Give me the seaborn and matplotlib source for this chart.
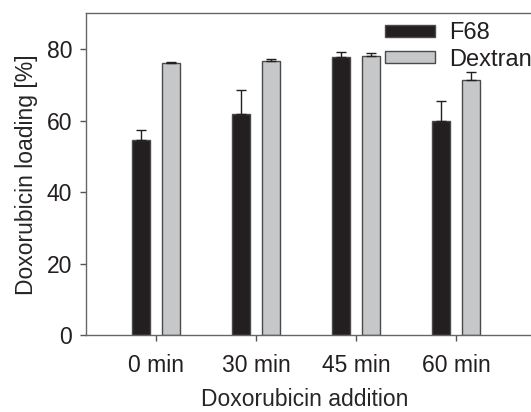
import numpy as np
import pandas as pd
import matplotlib
matplotlib.use("Agg")
import matplotlib.pyplot as plt
import seaborn as sns

# Datos
categories = ["0 min", "30 min", "45 min", "60 min"]
f68_mean = [54.6, 62.0, 77.7, 59.8]
f68_err = [2.8, 6.7, 1.5, 5.7]
dextran_mean = [76.2, 76.8, 78.0, 71.3]
dextran_err = [0.2, 0.5, 1.0, 2.2]
groups = ["F68", "Dextran"]

sns.set_theme(style="white")
plt.rcParams["font.family"] = ["Liberation Sans", "DejaVu Sans"]
plt.rcParams["text.color"] = "#231f20"

df = pd.DataFrame({
    "Doxorubicin addition": categories * 2,
    "loading": f68_mean + dextran_mean,
    "group": [groups[0]] * 4 + [groups[1]] * 4,
})

fig = plt.figure(figsize=(5.31, 4.12), dpi=100)
# el eje sigue más allá del borde derecho (figura recortada)
ax = fig.add_axes([86 / 531, 77 / 412, 470 / 531, 321.5 / 412])

palette = {"F68": "#231f20", "Dextran": "#c6c7c9"}
sns.barplot(data=df, x="Doxorubicin addition", y="loading", hue="group",
            hue_order=groups, order=categories, palette=palette,
            width=0.6, gap=0.37, errorbar=None, ax=ax,
            edgecolor="#4a4a4a", linewidth=1.0, saturation=1)

# Barras de error solo hacia arriba
errs = f68_err + dextran_err
means = f68_mean + dextran_mean
for patch, m, e in zip(ax.patches[:8], means, errs):
    xc = patch.get_x() + patch.get_width() / 2
    ax.errorbar(xc, m, yerr=[[0], [e]], fmt="none", ecolor="#231f20",
                elinewidth=1.0, capsize=3.8, capthick=1.0, zorder=1)

ax.set_xlim(-0.7, 4.0)
ax.set_ylim(0, 90)
ax.set_yticks([0, 20, 40, 60, 80])
ax.set_xlabel("Doxorubicin addition", fontsize=16.5)
ax.set_ylabel("Doxorubicin loading [%]", fontsize=16.5, labelpad=6)
ax.xaxis.set_label_coords((305 - 86) / 470, -53.5 / 321.5)
ax.tick_params(axis="both", labelsize=16.5, direction="out", length=4,
               width=1, color="#555555", bottom=True, left=True)
ax.tick_params(axis="x", pad=10)
ax.tick_params(axis="y", pad=6)
ax.tick_params(axis="both", labelcolor="#231f20")
for side in ["left", "bottom", "top", "right"]:
    ax.spines[side].set_color("#666666")
    ax.spines[side].set_linewidth(1.0)

ax.legend(loc="upper left", bbox_to_anchor=(385 / 531, 1 - 22 / 412),
          bbox_transform=fig.transFigure, frameon=False, fontsize=17,
          handlelength=2.1, handleheight=0.4, handletextpad=0.6,
          labelspacing=0.2, borderpad=0, borderaxespad=0)

plt.savefig("out.png", dpi=100)
